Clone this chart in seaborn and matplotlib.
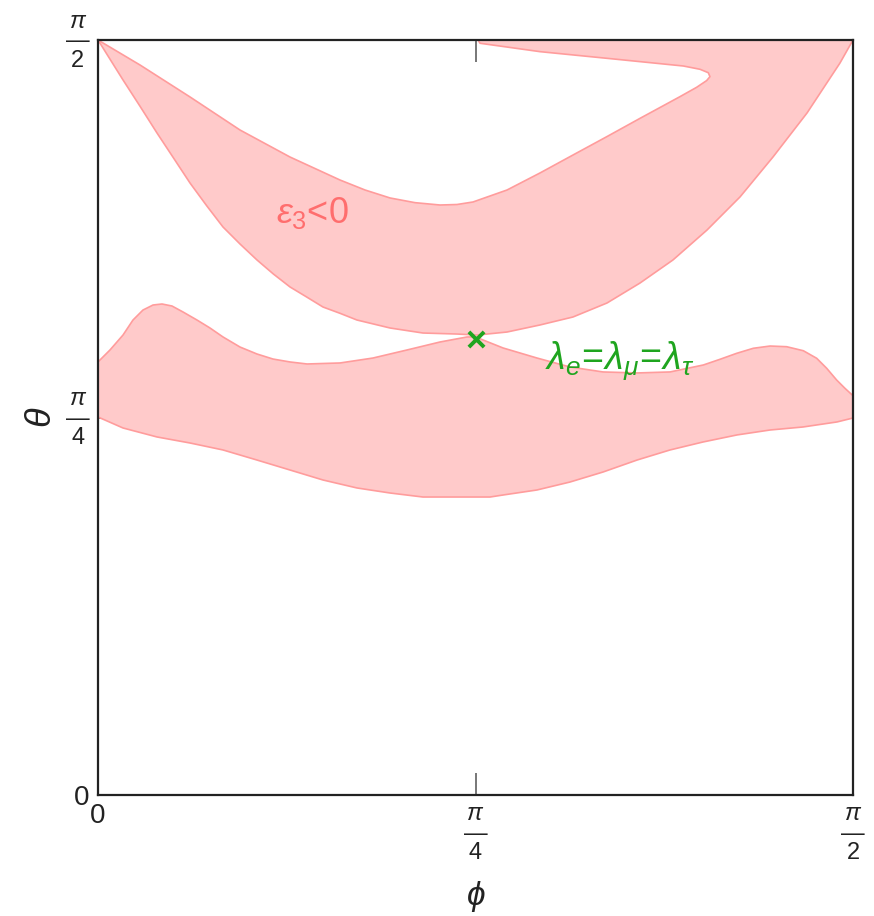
import numpy as np
import matplotlib
matplotlib.use("Agg")
import matplotlib.pyplot as plt
import seaborn as sns

# angles, in degrees (axis runs 0 .. 90 deg = pi/2)
# lower edge of the eps3<0 band
upper_lo_phi = [0, 2.98, 5.01, 7.03, 8.98, 10.97, 12.95, 14.90, 16.93, 18.95, 20.90,
                22.89, 24.88, 26.82, 28.85, 30.87, 32.82, 34.81, 38.74,
                42.79, 45.18, 48.76, 52.69, 56.62, 60.68, 64.61, 68.54, 72.60, 76.53,
                80.46, 84.52, 88.45, 90]
upper_lo_theta = [90, 85.24, 82.10, 78.92, 75.97, 72.95, 70.25, 67.71, 65.68, 63.78, 62.11,
                  60.56, 59.36, 58.17, 57.42, 56.62, 56.15, 55.67, 55.07,
                  54.95, 54.83, 55.19, 56.03, 56.98, 58.65, 61.03, 63.78, 67.35, 71.29,
                  76.05, 81.30, 87.26, 90]
# upper edge of the eps3<0 band (folds back near the top)
upper_hi_phi = [0, 5.01, 10.97, 16.93, 22.89, 28.85, 31.83, 34.81, 37.79, 40.77, 42.79,
                44.70, 48.76, 52.69, 56.62, 60.64, 64.61, 66.60, 69.38, 71.36, 72.55,
                72.95, 72.75, 71.76, 69.78, 66.60, 60.64, 52.69, 45.54, 45.30]
upper_hi_theta = [90, 87.02, 83.21, 79.27, 76.05, 73.31, 72.12, 71.17, 70.61, 70.33, 70.39,
                  70.69, 72.12, 74.15, 76.29, 78.47, 80.66, 81.74, 83.25, 84.36, 85.16,
                  85.63, 86.10, 86.51, 86.90, 87.22, 87.82, 88.61, 89.61, 90]
# lower band, upper edge
band_hi_phi = [0, 1.43, 2.98, 4.17, 5.36, 6.56, 7.63, 8.82, 10.13, 11.80, 13.35, 14.90,
               16.93, 18.95, 20.86, 22.89, 24.92, 28.85, 32.78, 36.84, 40.77, 43.99,
               45.0, 48.28, 52.33, 56.27, 60.20, 64.26, 68.19, 72.16, 74.15, 76.13,
               78.11, 80.11, 82.09, 84.08, 85.67, 86.86, 88.05, 89.04, 90]
band_hi_theta = [51.62, 53.05, 54.83, 56.62, 57.81, 58.41, 58.53, 58.29, 57.58, 56.62,
                 55.67, 54.60, 53.40, 52.57, 51.97, 51.62, 51.38, 51.50, 52.09, 53.05,
                 54.00, 54.60, 54.60, 53.29, 52.09, 51.02, 50.43, 50.31, 50.43, 51.26,
                 51.94, 52.65, 53.25, 53.52, 53.44, 52.96, 52.06, 50.87, 49.47, 48.48,
                 47.60]
# lower band, lower edge
band_lo_phi = [0, 2.98, 7.03, 10.97, 14.90, 18.95, 22.89, 26.82, 30.87, 34.81, 38.74,
               42.79, 46.73, 48.28, 52.33, 56.27, 60.20, 64.26, 68.19, 72.12, 76.17,
               80.11, 84.05, 88.10, 90]
band_lo_theta = [45.06, 43.75, 42.68, 41.96, 41.13, 39.93, 38.74, 37.55, 36.60, 36.00, 35.52,
                 35.52, 35.52, 35.76, 36.36, 37.31, 38.50, 39.93, 41.13, 42.08, 42.92,
                 43.51, 43.87, 44.47, 44.94]
# point where the three lambdas are equal
cross_phi = [45.0]
cross_theta = [54.4]

tick_pos = [0, 45, 90]
tick_labels = ['0', '$\\pi$\n\u2014\n4', '$\\pi$\n\u2014\n2']

sns.set_style("ticks")
plt.rcParams['font.family'] = ['Liberation Sans', 'DejaVu Sans']
plt.rcParams['mathtext.fontset'] = 'custom'
plt.rcParams['mathtext.rm'] = 'Liberation Sans'
plt.rcParams['mathtext.it'] = 'Liberation Sans:italic'
plt.rcParams['mathtext.bf'] = 'Liberation Sans:bold'
plt.rcParams['mathtext.fallback'] = 'stixsans'

fill_col = '#ffcaca'
edge_col = '#ff9c9c'
green = '#1fa51f'
ink = '#222222'

fig = plt.figure(figsize=(8.74, 9.16), dpi=100)
ax = fig.add_axes([98 / 874, 121 / 916, 755 / 874, 755 / 916])

# eps3 < 0 band
poly_phi = upper_lo_phi + upper_hi_phi[::-1]
poly_theta = upper_lo_theta + upper_hi_theta[::-1]
ax.fill(poly_phi, poly_theta, color=fill_col, lw=0)
# lower band
ax.fill(band_hi_phi + band_lo_phi[::-1], band_hi_theta + band_lo_theta[::-1],
        color=fill_col, lw=0)
for xs, ys in [(upper_lo_phi, upper_lo_theta), (upper_hi_phi, upper_hi_theta),
               (band_hi_phi, band_hi_theta), (band_lo_phi, band_lo_theta)]:
    sns.lineplot(x=xs, y=ys, sort=False, estimator=None, color=edge_col, lw=1.2,
                 ax=ax).lines[-1].set_solid_joinstyle('round')

sns.scatterplot(x=cross_phi, y=cross_theta, marker='x', s=120, color=green,
                linewidth=2.8, ax=ax, zorder=5)

ax.text(25.6, 69.4, r'$\varepsilon_3$<0', color='#ff6e6e', fontsize=26,
        ha='center', va='center')
ax.text(53.3, 50.7, r'$\lambda_e\!=\!\lambda_\mu\!=\!\lambda_\tau$', color=green,
        fontsize=27, ha='left', va='baseline')

ax.set_xlim(0, 90)
ax.set_ylim(0, 90)
ax.set_xticks(tick_pos)
ax.set_yticks(tick_pos)
ax.set_xticklabels(tick_labels, multialignment='center', linespacing=0.85)
ax.set_yticklabels(tick_labels, multialignment='center', linespacing=0.85)
ax.tick_params(direction='in', length=16, width=1.4, color='#777777',
               labelsize=17, labelcolor=ink, top=True, right=True, pad=6)
ax.get_xticklabels()[0].set_fontsize(20)
ax.get_yticklabels()[0].set_fontsize(20)
for s in ax.spines.values():
    s.set_linewidth(1.6)
    s.set_color(ink)

ax.set_xlabel(r'$\phi$', fontsize=24, color=ink)
ax.set_ylabel(r'$\theta$', fontsize=26, color=ink)
ax.xaxis.set_label_coords(0.5, -0.111)
ax.yaxis.set_label_coords(-0.052, 0.5)

fig.savefig('out.png', dpi=100)
